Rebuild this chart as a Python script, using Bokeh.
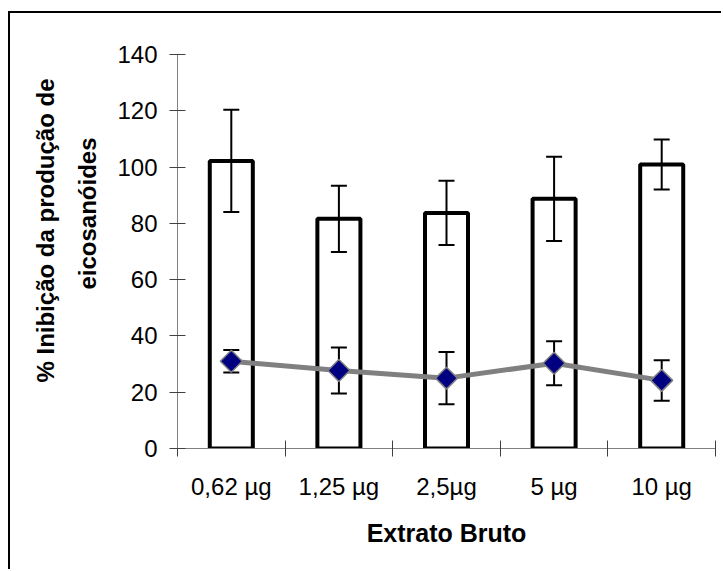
import math
from bokeh.plotting import figure
from bokeh.models import Range1d, FixedTicker, ColumnDataSource, Title
from bokeh.embed import file_html
from bokeh.resources import INLINE

# ---- data ----
categories = ["0,62 µg", "1,25 µg", "2,5µg", "5 µg", "10 µg"]
bar_mean = [102.2, 81.6, 83.7, 88.7, 100.9]
bar_err = [18.2, 11.8, 11.4, 15.0, 8.9]
line_mean = [31.0, 27.7, 25.0, 30.3, 24.2]
line_err = [4.0, 8.2, 9.3, 7.8, 7.2]
y_ticks = [0, 20, 40, 60, 80, 100, 120, 140]
y_title_lines = ["eicosanóides", "% Inibição da produção de"]
x_title = "Extrato Bruto"

FONT = "Liberation Sans"

xc = [i + 0.5 for i in range(len(categories))]
bars = ColumnDataSource(dict(
    x=xc, top=bar_mean,
    hi=[m + e for m, e in zip(bar_mean, bar_err)],
    lo=[m - e for m, e in zip(bar_mean, bar_err)],
))
pts = ColumnDataSource(dict(
    x=xc, y=line_mean,
    hi=[m + e for m, e in zip(line_mean, line_err)],
    lo=[m - e for m, e in zip(line_mean, line_err)],
))

p = figure(width=713, height=558, output_backend="svg", toolbar_location=None,
           x_range=Range1d(0, len(categories)), y_range=Range1d(0, 140),
           min_border_left=167, min_border_right=8, min_border_top=41, min_border_bottom=123)
p.outline_line_color = None
p.xgrid.visible = False
p.ygrid.visible = False
p.background_fill_color = "white"
p.border_fill_color = "white"
p.margin = (11, 0, 0, 8)
p.styles = {"border-top": "2px solid black", "border-left": "2px solid black"}

# bars
p.vbar(x="x", top="top", bottom=0, width=0.40, source=bars,
       fill_color="white", line_color="black", line_width=4)
p.segment(x0="x", y0="lo", x1="x", y1="hi", source=bars, line_color="black", line_width=2)
p.scatter(x="x", y="hi", source=bars, marker="dash", size=16, line_color="black", line_width=2)
p.scatter(x="x", y="lo", source=bars, marker="dash", size=16, line_color="black", line_width=2)

# line series
p.line(x="x", y="y", source=pts, line_color="#808080", line_width=5)
p.segment(x0="x", y0="lo", x1="x", y1="hi", source=pts, line_color="black", line_width=2)
p.scatter(x="x", y="hi", source=pts, marker="dash", size=16, line_color="black", line_width=2)
p.scatter(x="x", y="lo", source=pts, marker="dash", size=16, line_color="black", line_width=2)
p.scatter(x="x", y="y", source=pts, marker="square", angle=math.pi / 4, size=15.5,
          fill_color="#000080", line_color="#808080", line_width=1.5)

# y axis
ya = p.yaxis[0]
ya.ticker = FixedTicker(ticks=y_ticks, minor_ticks=[])
ya.axis_line_color = "#808080"
ya.major_tick_line_color = "#404040"
ya.major_tick_in = 8
ya.major_tick_out = 8
ya.minor_tick_line_color = None
ya.major_label_standoff = 12
ya.major_label_text_font = FONT
ya.major_label_text_font_size = "24px"
ya.major_label_text_color = "black"

# x axis
xa = p.xaxis[0]
xa.ticker = FixedTicker(ticks=xc, minor_ticks=list(range(len(categories) + 1)))
xa.major_label_overrides = {x: c for x, c in zip(xc, categories)}
xa.axis_line_color = "#808080"
xa.major_tick_line_color = None
xa.major_tick_in = 0
xa.major_tick_out = 0
xa.minor_tick_line_color = "#404040"
xa.minor_tick_in = 8
xa.minor_tick_out = 8
xa.major_label_standoff = 16
xa.major_label_text_font = FONT
xa.major_label_text_font_size = "24px"
xa.major_label_text_color = "black"
xa.axis_label = x_title
xa.axis_label_text_font = FONT
xa.axis_label_text_font_style = "bold"
xa.axis_label_text_font_size = "25px"
xa.axis_label_text_color = "black"
xa.axis_label_standoff = 16

# y axis title (two lines, as titles on the left)
for txt, so, off in zip(y_title_lines, [28, -3], [83, 24]):
    p.add_layout(Title(text=txt, align="right", offset=off, standoff=so,
                       text_font=FONT, text_font_style="bold", text_font_size="24px",
                       text_color="black"), "left")

open("out.html", "w").write(file_html(p, INLINE))
